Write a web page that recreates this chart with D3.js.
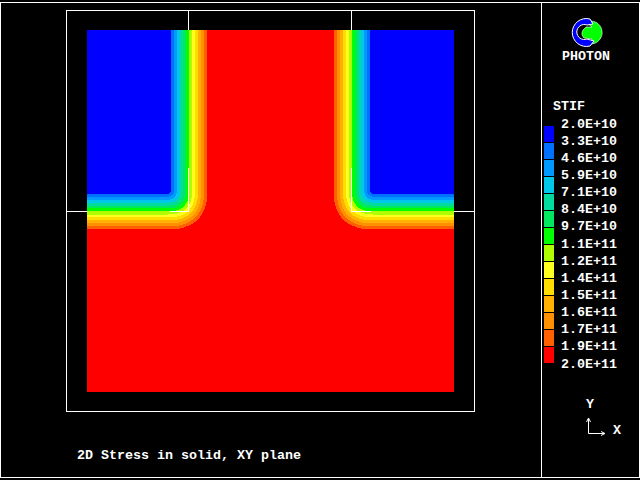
<!DOCTYPE html>
<html>
<head>
<meta charset="utf-8">
<script src="https://cdn.jsdelivr.net/npm/d3@7"></script>
<style>
html,body{margin:0;padding:0;background:#000;overflow:hidden}
svg{display:block}
text{font-family:"Liberation Mono",monospace;font-weight:bold;font-size:13.33px;fill:#fff;-webkit-font-smoothing:none}
</style>
</head>
<body>
<svg id="chart" width="640" height="480"></svg>
<script>
// Legend
const legendTitle = "STIF";
const legendLabels = ["2.0E+10","3.3E+10","4.6E+10","5.9E+10","7.1E+10","8.4E+10","9.7E+10","1.1E+11","1.2E+11","1.4E+11","1.5E+11","1.6E+11","1.7E+11","1.9E+11","2.0E+11"];
const bandColors = ["#0000ff","#0070ff","#0099ff","#00c8e8","#00dca0","#00e860","#00ff00","#b0ff00","#ffff20","#ffdd00","#ffb000","#ff9000","#ff6000","#ff0000"];
// Stiffness (in GPa) separating neighbouring colour bands
const bandLevels = [32.9,45.7,58.6,71.4,84.3,97.1,110,122.9,135.7,148.6,161.4,174.3,187.1];
// Nodal stiffness (GPa) read around the inner corner of the T-shaped solid.
// Rows go downward across the corner, columns go inward to the stem.
const cornerStiffness = [
 [ 20, 42, 65, 88,110,132,155,178,200],
 [ 42, 50, 68, 89,111,133,156,178,200],
 [ 65, 68, 79, 96,116,137,158,180,200],
 [ 88, 89, 96,109,126,144,164,185,200],
 [110,111,116,126,139,155,173,192,200],
 [132,133,137,144,155,169,185,198,200],
 [155,156,158,164,173,185,196,200,200],
 [178,178,180,185,192,198,200,200,200],
 [200,200,200,200,200,200,200,200,200]
];
const cornerX = [168,210];   // model span of the table, left flank
const cornerY = [191,232];   // model span of the table
const mirrorX = 541;         // symmetry: x -> mirrorX - x
const fieldX = [87,454];
const fieldY = [30,392];
const subtitle = "2D Stress in solid, XY plane";
const brand = "PHOTON";

const svg = d3.select("#chart");
const line = (x1,y1,x2,y2)=>svg.append("line").attr("x1",x1).attr("y1",y1).attr("x2",x2).attr("y2",y2)
  .attr("stroke","#fff").attr("stroke-width",1).attr("shape-rendering","crispEdges");

// Field
const nx = fieldX[1]-fieldX[0], ny = fieldY[1]-fieldY[0];
const colN = d3.scaleLinear().domain(cornerX).range([0,8]).clamp(true);
const rowN = d3.scaleLinear().domain(cornerY).range([0,8]).clamp(true);
function stiffness(x,y){
  const mx = x <= mirrorX/2 ? x : mirrorX - x;
  const c = colN(mx), r = rowN(y);
  const c0 = Math.min(7,Math.floor(c)), r0 = Math.min(7,Math.floor(r));
  const fc = c-c0, fr = r-r0, t = cornerStiffness;
  return d3.interpolateNumber(
    d3.interpolateNumber(t[r0][c0],t[r0][c0+1])(fc),
    d3.interpolateNumber(t[r0+1][c0],t[r0+1][c0+1])(fc))(fr);
}
const grid = new Float64Array(nx*ny);
for(let j=0;j<ny;j++)for(let i=0;i<nx;i++)grid[j*nx+i]=stiffness(fieldX[0]+i+.5,fieldY[0]+j+.5);
const contours = d3.contours().size([nx,ny]).smooth(false).thresholds(bandLevels)(grid);
const gField = svg.append("g").attr("transform",`translate(${fieldX[0]},${fieldY[0]})`).attr("shape-rendering","crispEdges");
gField.append("rect").attr("width",nx).attr("height",ny).attr("fill",bandColors[0]);
const path = d3.geoPath();
gField.selectAll("path").data(contours).join("path")
  .attr("d",path).attr("fill",(d,i)=>bandColors[i+1]);

// Frames
svg.append("rect").attr("x",.5).attr("y",2.5).attr("width",639).attr("height",474.5)
  .attr("fill","none").attr("stroke","#fff").attr("shape-rendering","crispEdges");
line(541.5,2,541.5,477);
svg.append("rect").attr("x",66.5).attr("y",10.5).attr("width",408).attr("height",401)
  .attr("fill","none").attr("stroke","#fff").attr("shape-rendering","crispEdges");
line(188.5,11,188.5,30); line(188.5,168,188.5,212); line(66,211.5,87,211.5); line(170,211.5,189,211.5);
line(351.5,11,351.5,30); line(351.5,168,351.5,212); line(351,211.5,371,211.5); line(454,211.5,474,211.5);

// Legend
const yBand = d3.scaleBand().domain(d3.range(bandColors.length)).range([126,364]);
svg.append("g").selectAll("rect").data(bandColors).join("rect")
  .attr("x",544).attr("width",10).attr("y",(d,i)=>yBand(i)).attr("height",yBand.bandwidth()-1)
  .attr("fill",d=>d).attr("shape-rendering","crispEdges");
const yLab = d3.scalePoint().domain(d3.range(legendLabels.length)).range([123,363]);
svg.append("g").selectAll("text").data(legendLabels).join("text")
  .attr("x",561).attr("y",(d,i)=>yLab(i)+4.5).text(d=>d);
svg.append("text").attr("x",553).attr("y",110).text(legendTitle);

// Captions
svg.append("text").attr("x",77).attr("y",459).text(subtitle);
svg.append("text").attr("x",562).attr("y",60).text(brand);

// Axis triad
svg.append("text").attr("x",586).attr("y",408).text("Y");
svg.append("text").attr("x",613).attr("y",434).text("X");
svg.append("path").attr("d","M588.5,433.5V419M586.5,422L588.5,418L590.5,422M588.5,433.5H604M601,431.5L605,433.5L601,435.5")
  .attr("fill","none").attr("stroke","#fff").attr("stroke-width",1);

// Logo
svg.append("path").attr("d","M586,22 A11.5,11.5 0 1 1 590,44 L592,39 L584,38 A6.5,6.5 0 0 1 583,30 L586,27 L592,27 Z")
  .attr("fill","#00ff00").attr("stroke","#fff").attr("stroke-width",.6);
svg.append("path").attr("d","M590,19 A14,14 0 1 0 590,46 L594,41 L587,39 A7.5,7.5 0 1 1 587,25 L593,24 Z")
  .attr("fill","#0000ff").attr("stroke","#fff");
</script>
</body>
</html>
